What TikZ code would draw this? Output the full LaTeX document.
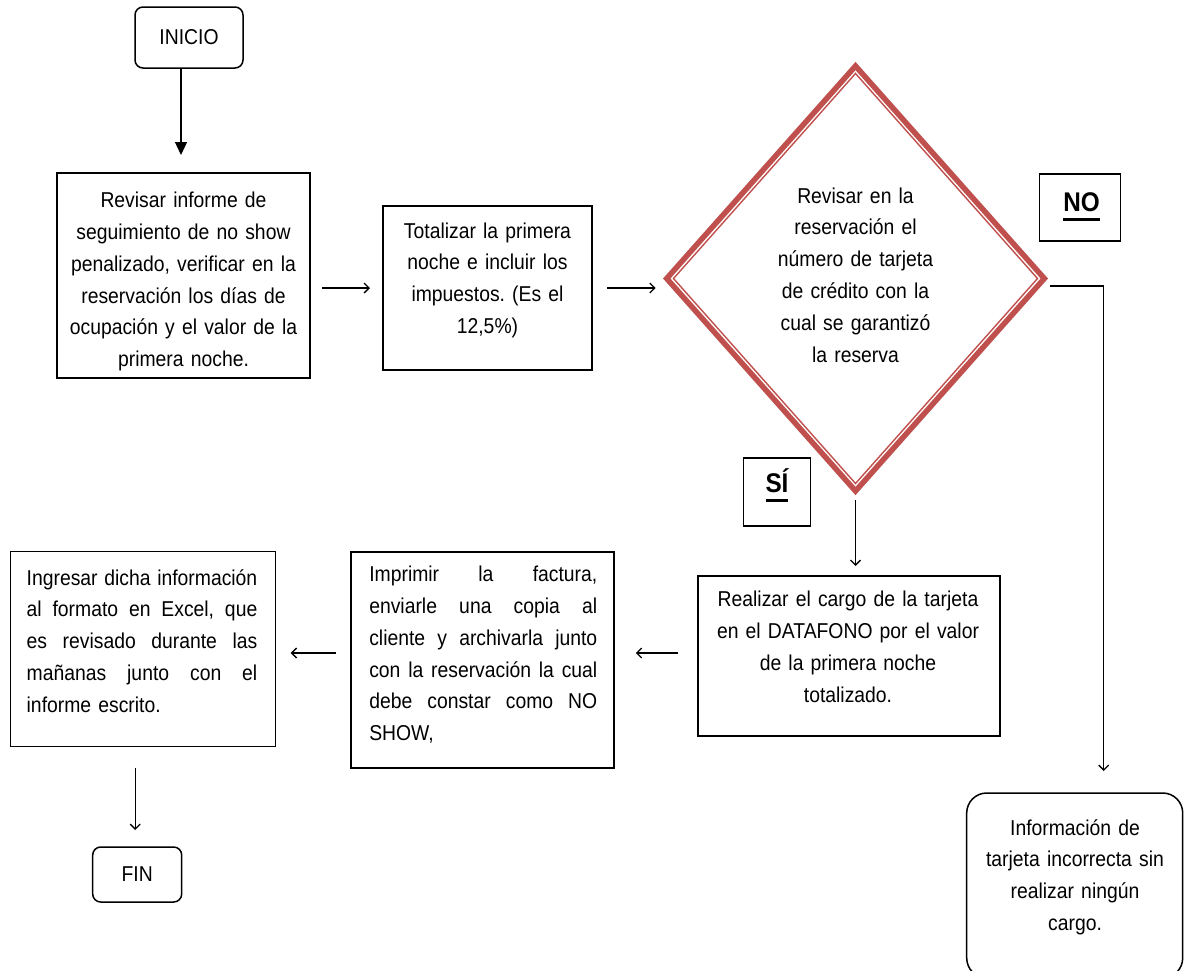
\documentclass[tikz,border=0pt]{standalone}
\usepackage{fontspec}
\setmainfont{Liberation Sans}[FakeStretch=0.9]
\usetikzlibrary{arrows.meta,calc,shapes.geometric}
\definecolor{dred}{RGB}{192,80,77}
\frenchspacing
% thick underline used for the branch labels
\newcommand\thickul[1]{\vtop{\hbox{#1}\kern6.5pt\hrule height 2.5pt}}
% a fully justified line inside a fixed-width block
\newcommand\jline[1]{\leavevmode\hbox to\linewidth{\spaceskip=0.26em plus 1fil minus 0.1em\relax #1}}

\begin{document}
\begin{tikzpicture}[x=1pt,y=-1pt,
  every node/.style={inner sep=0pt, outer sep=0pt},
  bodyfont/.style={font=\fontsize{21.5}{31.8}\selectfont\frenchspacing},
  procbox/.style 2 args={draw, line width=1.5pt, minimum width=#1, minimum height=#2},
  termbox/.style 2 args={draw, line width=1.5pt, rounded corners=8pt, minimum width=#1, minimum height=#2, bodyfont},
  ctext/.style={bodyfont, text width=320pt, align=center, anchor=base},
  jtext/.style={bodyfont, text width=#1, align=left, anchor=base west},
  tagbox/.style 2 args={draw, line width=1.5pt, minimum width=#1, minimum height=#2},
  tagtext/.style={font=\fontsize{27}{30}\selectfont\bfseries, anchor=base},
  arr/.style={line width=1.3pt, -{Straight Barb[length=5pt,width=10pt,line width=1.3pt]}},
  bigarr/.style={line width=1.3pt, -{Triangle[length=13pt,width=12pt]}}
]
\fill[white] (0,0) rectangle (1185,970);
\useasboundingbox (0,0) rectangle (1185,970);

% start and end terminals
\node[termbox={108}{61}] (ini) at (189,37.5) {INICIO};
\node[termbox={89}{55}] (fin) at (137.2,874.5) {FIN};

% process boxes
\node[procbox={253}{205}] (b1) at (183.5,275.5) {};
\node[ctext] (t1) at (183.5,207.7) {Revisar informe de\\seguimiento de no show\\penalizado, verificar en la\\reservación los días de\\ocupación y el valor de la\\primera noche.};

\node[procbox={209}{164}] (b2) at (487.5,288) {};
\node[ctext] (t2) at (487.5,238) {Totalizar la primera\\noche e incluir los\\impuestos. (Es el\\12,5\%)};

% decision
\node[diamond, draw=dred, line width=5.5pt, line join=miter, minimum width=377.6, minimum height=425] (dia) at (855.5,278.5) {};
\node[diamond, draw=dred, line width=1.4pt, line join=miter, minimum width=364, minimum height=410] (diain) at (dia) {};
\node[ctext] (tdia) at (855.5,203) {Revisar en la\\reservación el\\número de tarjeta\\de crédito con la\\cual se garantizó\\la reserva};

% branch labels
\node[tagbox={81}{67}] (nobox) at (1080,207.5) {};
\node[tagtext] (notxt) at (1081.5,211.7) {\thickul{NO}};
\node[tagbox={67}{68}] (sibox) at (777,492) {};
\node[tagtext] (sitxt) at (777,492.7) {\thickul{SÍ}};

\node[procbox={302}{160}] (real) at (849,656) {};
\node[ctext] (treal) at (848,606.7) {Realizar el cargo de la tarjeta\\en el DATAFONO por el valor\\de la primera noche\\totalizado.};

\node[procbox={263}{216}] (imp) at (482.3,660) {};
\node[jtext=228pt] (timp) at (369.3,581.7) {\jline{Imprimir la factura,}\\\jline{enviarle una copia al}\\\jline{cliente y archivarla junto}\\\jline{con la reservación la cual}\\\jline{debe constar como NO}\\SHOW,};

\node[procbox={265}{195}] (ing) at (143.2,649.2) {};
\node[jtext=230.6pt] (ting) at (26.7,585) {\jline{Ingresar dicha información}\\\jline{al formato en Excel, que}\\\jline{es revisado durante las}\\\jline{mañanas junto con el}\\informe escrito.};

\node[draw, line width=1.5pt, rounded corners=20pt, minimum width=216, minimum height=185] (info) at (1074.7,885.5) {};
\node[ctext] (tinfo) at (1075,835) {Información de\\tarjeta incorrecta sin\\realizar ningún\\cargo.};

% connectors
\draw[bigarr, shorten >=18pt] ([xshift=-8pt]ini.south) -- ([xshift=-8pt]ini.south |- b1.north);
\draw[arr, shorten <=12pt, shorten >=13pt] (b1.east |- b2.west) -- (b2.west);
\draw[arr, shorten <=15pt, shorten >=11pt] (b2.east) -- (b2.east -| dia.west);
\draw[arr] ($(dia.east)+(6,7.5)$) -| ($(info.north)+(29,-22)$);
\draw[arr, shorten <=9pt, shorten >=10pt] (dia.south) -- (dia.south |- real.north);
\draw[arr, shorten <=20pt, shorten >=22pt] ($(real.west)+(0,-3)$) -- ($(real.west -| imp.east)+(0,-3)$);
\draw[arr, shorten <=15pt, shorten >=15pt] ($(imp.west)+(0,-7)$) -- ($(imp.west -| ing.east)+(0,-7)$);
\draw[arr, shorten <=21pt, shorten >=17pt] ($(fin.north |- ing.south)+(-2,0)$) -- ($(fin.north)+(-2,0)$);
\end{tikzpicture}
\end{document}
